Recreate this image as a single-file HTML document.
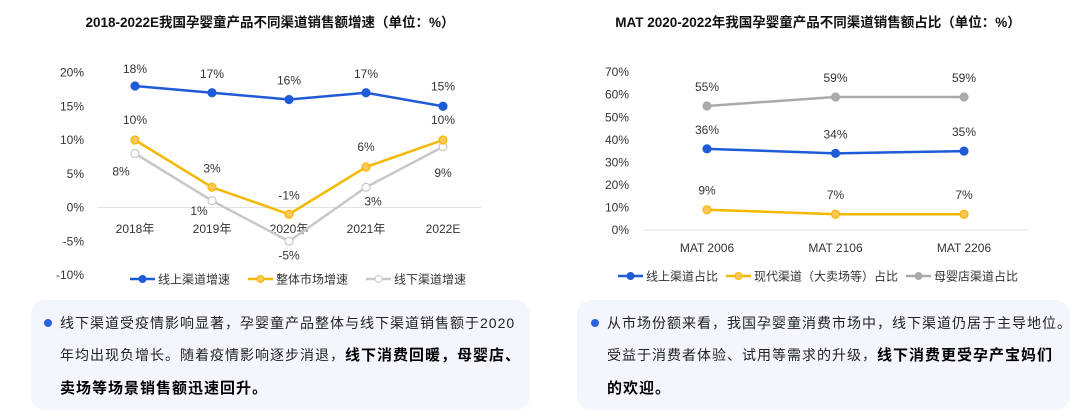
<!DOCTYPE html>
<html><head><meta charset="utf-8">
<style>
body{margin:0;width:1080px;height:420px;background:#fff;font-family:"Liberation Sans","Noto Sans CJK SC",sans-serif;overflow:hidden;position:relative}
.box{position:absolute;top:300px;height:110px;background:#f3f7fd;border-radius:14px}
.txt{position:absolute;font-size:14px;color:#222;line-height:32px;white-space:nowrap;letter-spacing:1px}
.txt b{font-size:15px;color:#000}
.dot{position:absolute;width:8px;height:8px;border-radius:50%;background:#2a63e0}
</style></head><body>
<div class="box" style="left:31px;width:499px"></div>
<div class="box" style="left:577px;width:493px"></div>
<div class="dot" style="left:44px;top:319px"></div>
<div class="dot" style="left:591px;top:319px"></div>
<div class="txt" style="left:60px;top:307px">线下渠道受疫情影响显著，孕婴童产品整体与线下渠道销售额于2020<br>年均出现负增长。随着疫情影响逐步消退，<b>线下消费回暖，母婴店、</b><br><b>卖场等场景销售额迅速回升。</b></div>
<div class="txt" style="left:607px;top:307px">从市场份额来看，我国孕婴童消费市场中，线下渠道仍居于主导地位。<br>受益于消费者体验、试用等需求的升级，<b>线下消费更受孕产宝妈们</b><br><b>的欢迎。</b></div>
<svg id="svg" width="1080" height="300" style="position:absolute;left:0;top:0" font-family="Liberation Sans, Noto Sans CJK SC, sans-serif"></svg>
<script>
const cats1=["2018年","2019年","2020年","2021年","2022E"];
const online1=[18,17,16,17,15];
const total1=[10,3,-1,6,10];
const offline1=[8,1,-5,3,9];
const ticks1=[20,15,10,5,0,-5,-10];
const cats2=["MAT 2006","MAT 2106","MAT 2206"];
const online2=[36,34,35];
const modern2=[9,7,7];
const store2=[55,59,59];
const ticks2=[70,60,50,40,30,20,10,0];
const NS="http://www.w3.org/2000/svg";
const svg=document.getElementById('svg');
function el(t,a,txt){const e=document.createElementNS(NS,t);for(const k in a)e.setAttribute(k,a[k]);if(txt!==undefined)e.textContent=txt;svg.appendChild(e);return e;}
const BLUE="#1f5bd6",YEL="#f5b800",GRY="#c8c8c8",GRY2="#aaaaaa";
let t=el('text',{x:270,y:27,'text-anchor':'middle','font-size':13.5,'font-weight':'bold',fill:'#111'},"2018-2022E我国孕婴童产品不同渠道销售额增速（单位：%）");


t=el('text',{x:818,y:27,'text-anchor':'middle','font-size':13.5,'font-weight':'bold',fill:'#111'},"MAT 2020-2022年我国孕婴童产品不同渠道销售额占比（单位：%）");


const y1=v=>207.5-v*6.75, x1=i=>135+i*77;
ticks1.forEach(v=>{const e=el('text',{x:84,y:y1(v)+4,'text-anchor':'end','font-size':12,fill:'#333'},v+'%');

});
let z=el('line',{x1:97,x2:481,y1:y1(0),y2:y1(0),stroke:'#e3e3e3','stroke-width':1});


cats1.forEach((c,i)=>{const e=el('text',{x:x1(i),y:233,'text-anchor':'middle','font-size':12,fill:'#333'},c);

});
function series(data,xf,yf,col,fillc,name,labOff){
 const p=el('polyline',{points:data.map((v,i)=>xf(i)+','+yf(v)).join(' '),fill:'none',stroke:col,'stroke-width':2.5});
 
 
 data.forEach((v,i)=>{const c=el('circle',{cx:xf(i),cy:yf(v),r:4,fill:fillc,stroke:col,'stroke-width':1.2});
 
 
 const o=labOff(i);
 const l=el('text',{x:xf(i)+o[0],y:yf(v)+o[1],'text-anchor':'middle','font-size':12,fill:'#333'},v+'%');
 
 });
}
series(offline1,x1,y1,GRY,'#fff','offline-growth',i=>[[-14,22],[-13,14],[0,18],[7,18],[0,30]][i]);
series(total1,x1,y1,YEL,'#fbc65a','total-growth',i=>[0,[-16,-15,-15,-16,-16][i]]);
series(online1,x1,y1,BLUE,BLUE,'online-growth',i=>[0,[-13,-15,-15,-15,-16][i]]);
function legend(x,y,col,fillc,label,name){
 const g=el('line',{x1:x,x2:x+25,y1:y,y2:y,stroke:col,'stroke-width':2.5});
 
 
 const c=el('circle',{cx:x+12.5,cy:y,r:3.5,fill:fillc,stroke:col,'stroke-width':1});
 
 
 const t=el('text',{x:x+28,y:y+4.5,'font-size':12,fill:'#333'},label);
 
 
}
legend(130,279,BLUE,BLUE,'线上渠道增速','online-growth');
legend(248,279,YEL,'#fbc65a','整体市场增速','total-growth');
legend(366,279,GRY,'#fff','线下渠道增速','offline-growth');
const y2=v=>230-v*2.255, x2=i=>707+i*128.5;
ticks2.forEach(v=>{const e=el('text',{x:629,y:y2(v)+4,'text-anchor':'end','font-size':12,fill:'#333'},v+'%');

});
z=el('line',{x1:643,x2:1028,y1:y2(0),y2:y2(0),stroke:'#e3e3e3','stroke-width':1});


cats2.forEach((c,i)=>{const e=el('text',{x:x2(i),y:252,'text-anchor':'middle','font-size':12,fill:'#333'},c);

});
series(store2,x2,y2,GRY2,GRY2,'store-share',i=>[0,-15]);
series(online2,x2,y2,BLUE,BLUE,'online-share',i=>[0,-15]);
series(modern2,x2,y2,YEL,'#fbc65a','modern-share',i=>[0,-15]);
legend(618,276,BLUE,BLUE,'线上渠道占比','online-share');
legend(726,276,YEL,'#fbc65a','现代渠道（大卖场等）占比','modern-share');
legend(906,276,GRY2,GRY2,'母婴店渠道占比','store-share');
</script>
</body></html>
